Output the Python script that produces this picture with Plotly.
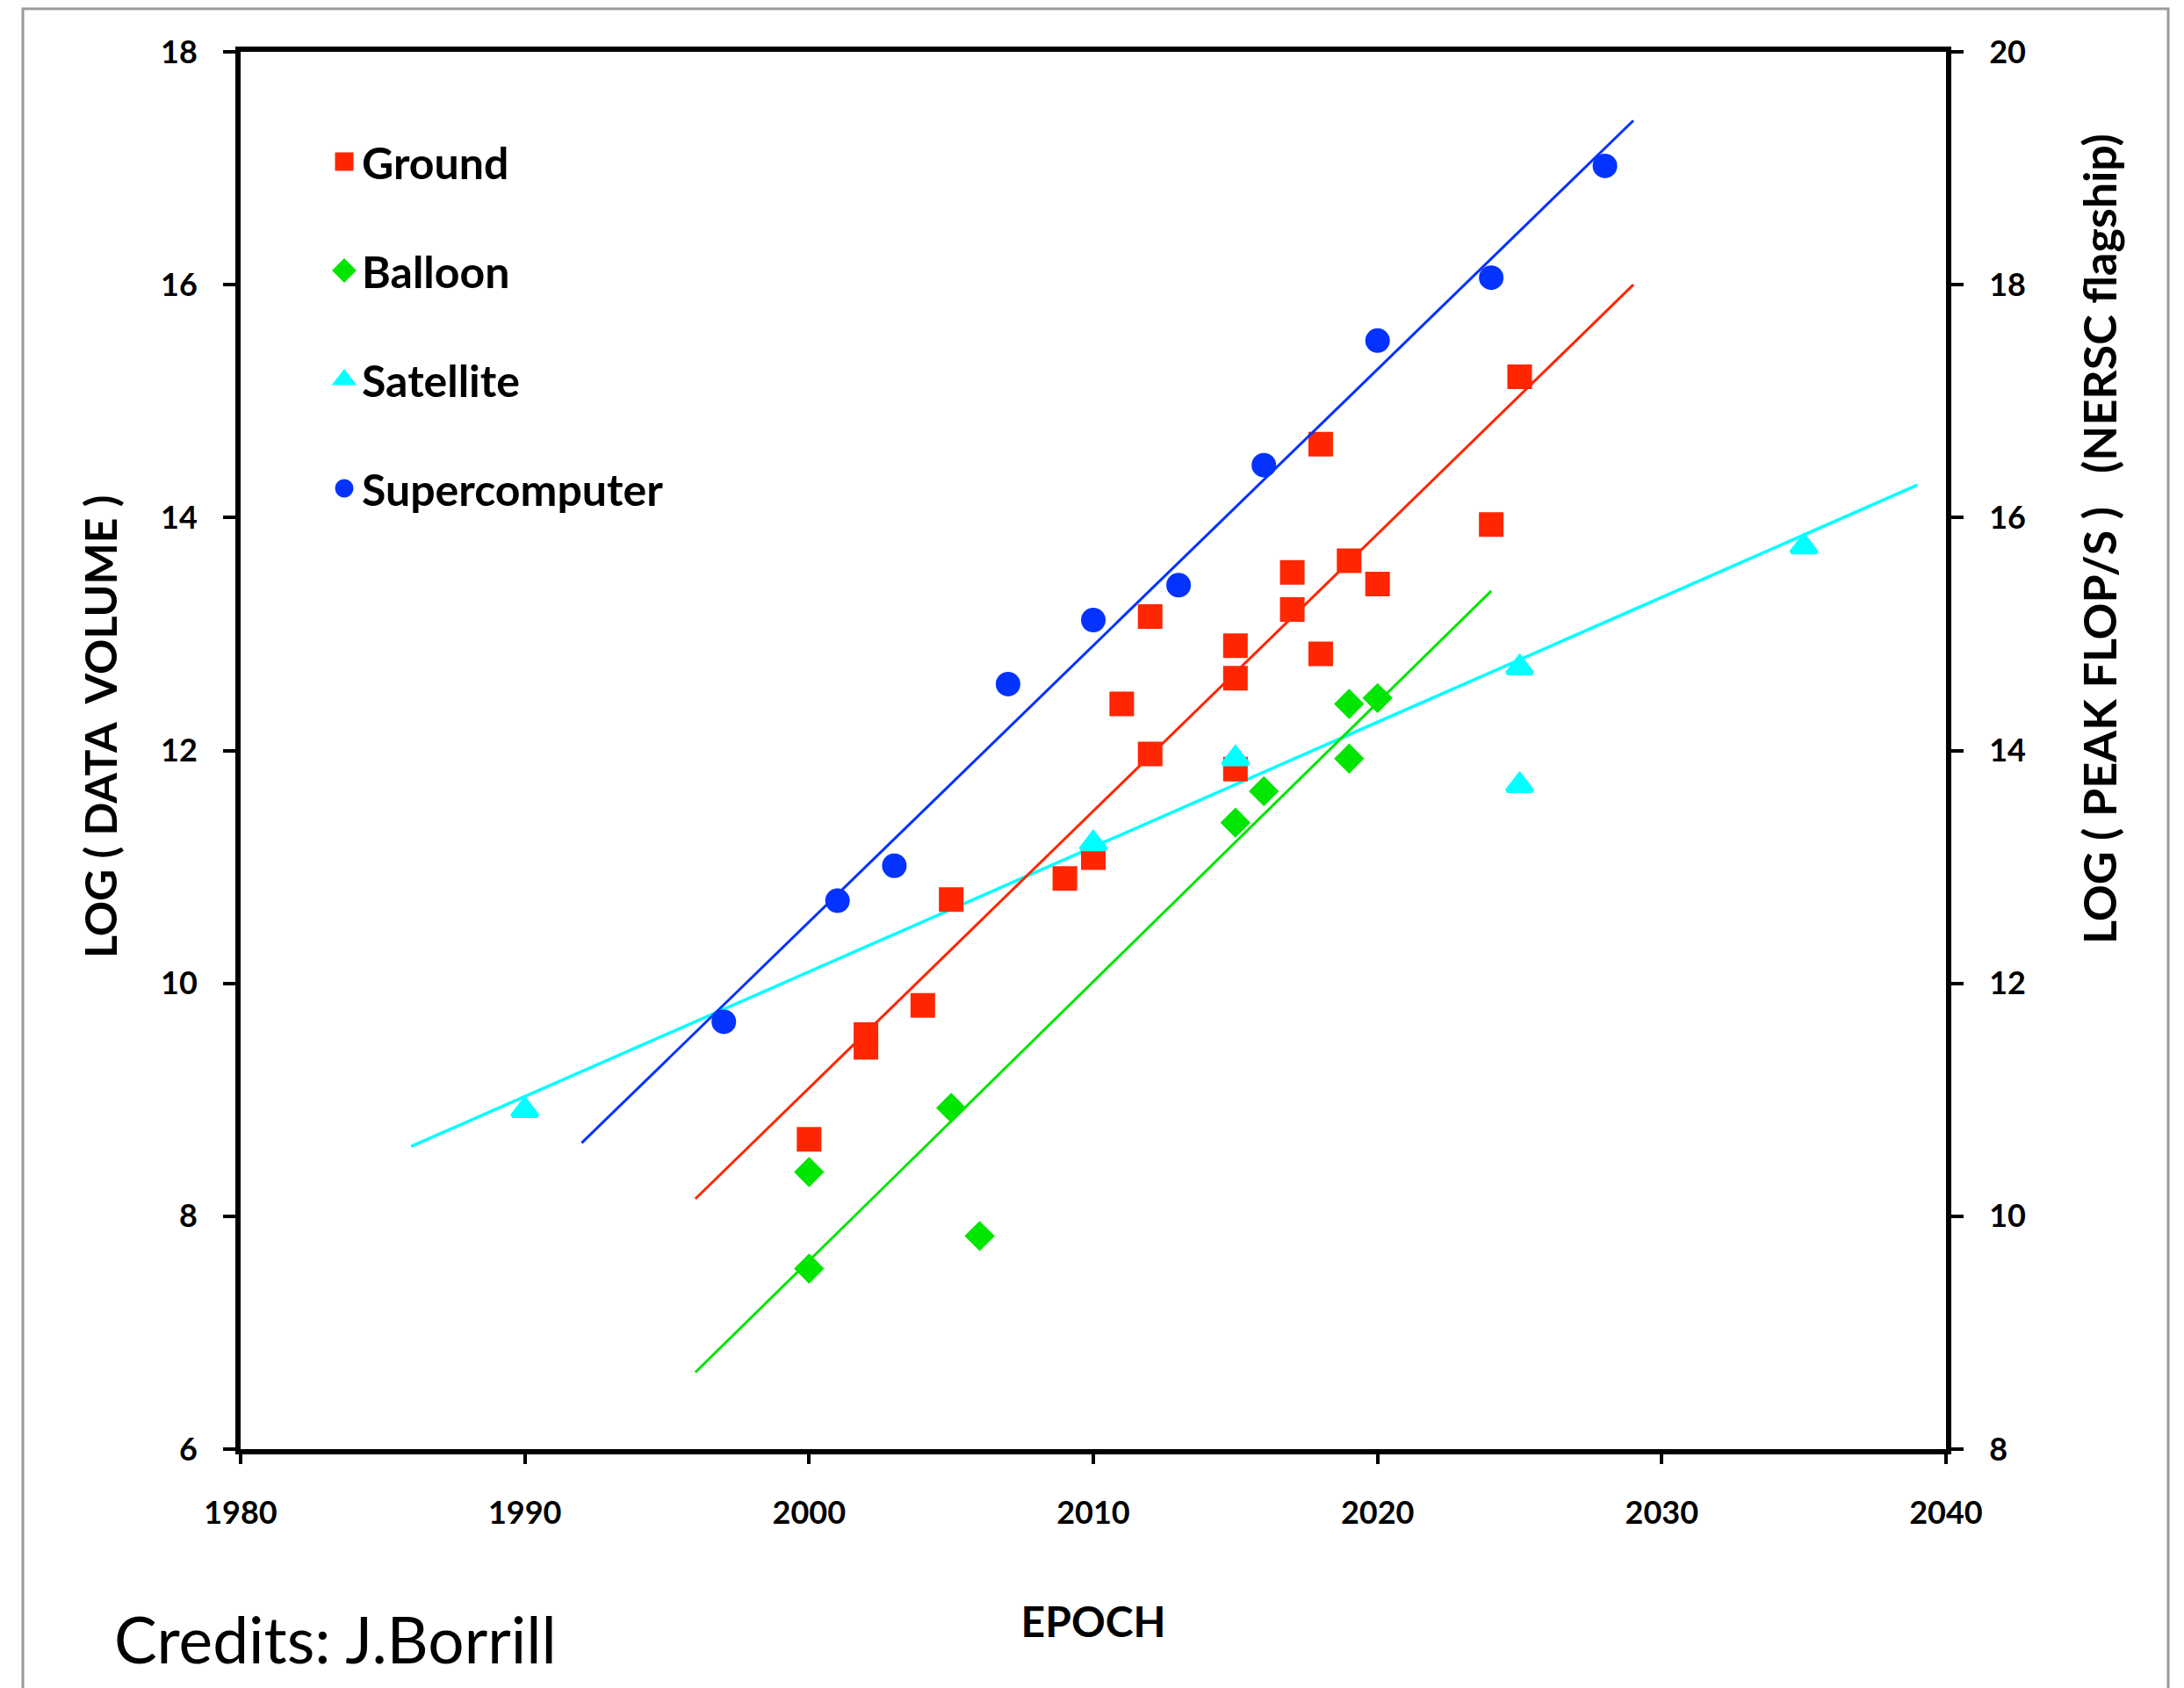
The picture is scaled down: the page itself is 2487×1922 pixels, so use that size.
import plotly.graph_objects as go

# ---------------- data ----------------
ground_years = [2000, 2002, 2002, 2004, 2005, 2009, 2010, 2011, 2012, 2012,
                2015, 2015, 2015, 2017, 2017, 2018, 2018, 2019, 2020, 2024, 2025]
ground_vals = [8.66, 9.56, 9.45, 9.81, 10.72, 10.90, 11.08, 12.40, 11.97, 13.15,
               12.90, 12.62, 11.84, 13.53, 13.21, 14.63, 12.83, 13.63, 13.43, 13.94, 15.21]

balloon_years = [2000, 2000, 2005, 2006, 2015, 2016, 2019, 2019, 2020]
balloon_vals = [8.38, 7.55, 8.93, 7.83, 11.38, 11.65, 12.40, 11.93, 12.45]

satellite_years = [1990, 2010, 2015, 2025, 2025, 2035]
satellite_vals = [8.91, 11.20, 11.93, 12.71, 11.70, 13.75]

super_years = [1997, 2001, 2003, 2007, 2010, 2013, 2016, 2020, 2024, 2028]
super_flops = [11.67, 12.71, 13.01, 14.57, 15.12, 15.42, 16.45, 17.52, 18.06, 19.02]

# trend-line end points
ground_fit_years = [1996, 2029]
ground_fit_vals = [8.15, 16.00]
balloon_fit_years = [1996, 2024]
balloon_fit_vals = [6.66, 13.37]
satellite_fit_years = [1986, 2039]
satellite_fit_vals = [8.60, 14.28]
super_fit_years = [1992, 2029]
super_fit_flops = [10.63, 19.41]

x_ticks = [1980, 1990, 2000, 2010, 2020, 2030, 2040]
y_ticks = [6, 8, 10, 12, 14, 16, 18]
y2_ticks = [8, 10, 12, 14, 16, 18, 20]

# ---------------- style ----------------
RED = "#FF2600"
GREEN = "#00E600"
CYAN = "#00FFFF"
BLUE = "#0433FF"
FONT = "Lato"

W, H = 2487, 1922
ML, MR, MT, MB = 274, 271, 59, 272
PW, PH = W - ML - MR, H - MT - MB


def px_x(px):
    return (px - ML) / PW


def px_y(py):
    return (H - MB - py) / PH


fig = go.Figure()

# trend lines
fig.add_trace(go.Scatter(x=satellite_fit_years, y=satellite_fit_vals, mode="lines",
                         line=dict(color=CYAN, width=3.5), showlegend=False, hoverinfo="skip"))
fig.add_trace(go.Scatter(x=balloon_fit_years, y=balloon_fit_vals, mode="lines",
                         line=dict(color=GREEN, width=3), showlegend=False, hoverinfo="skip"))
fig.add_trace(go.Scatter(x=ground_fit_years, y=ground_fit_vals, mode="lines",
                         line=dict(color=RED, width=3), showlegend=False, hoverinfo="skip"))
fig.add_trace(go.Scatter(x=super_fit_years, y=super_fit_flops, mode="lines", yaxis="y2",
                         line=dict(color=BLUE, width=3), showlegend=False, hoverinfo="skip"))

# points
fig.add_trace(go.Scatter(x=ground_years, y=ground_vals, mode="markers", name="Ground",
                         legendgroup="g1",
                         marker=dict(symbol="square", size=23, color=RED,
                                     line=dict(color=RED, width=5))))
fig.add_trace(go.Scatter(x=balloon_years, y=balloon_vals, mode="markers", name="Balloon",
                         legendgroup="g2",
                         marker=dict(symbol="diamond", size=21, color=GREEN,
                                     line=dict(color=GREEN, width=5))))
fig.add_trace(go.Scatter(x=satellite_years, y=satellite_vals, mode="markers", name="Satellite",
                         legendgroup="g3",
                         marker=dict(symbol="triangle-up", size=25, color=CYAN,
                                     line=dict(color=CYAN, width=5))))
fig.add_trace(go.Scatter(x=super_years, y=super_flops, mode="markers", name="Supercomputer",
                         legendgroup="g4", yaxis="y2",
                         marker=dict(symbol="circle", size=23, color=BLUE,
                                     line=dict(color=BLUE, width=5))))

tickfont = dict(family=FONT, size=36, color="black", weight="bold")

fig.update_layout(
    width=W, height=H,
    margin=dict(l=ML, r=MR, t=MT, b=MB, autoexpand=False),
    paper_bgcolor="white", plot_bgcolor="white",
    xaxis=dict(range=[1980, 2040], tickvals=x_ticks, ticktext=[str(v) for v in x_ticks],
               showgrid=False, zeroline=False,
               showline=True, linewidth=6, linecolor="black", mirror=True,
               ticks="outside", ticklen=11, tickwidth=4, tickcolor="black",
               tickfont=tickfont, ticklabelstandoff=25,
               title=dict(text="EPOCH", font=dict(family=FONT, size=48, color="black", weight="bold"),
                          standoff=90)),
    yaxis=dict(range=[6, 18], tickvals=y_ticks, ticktext=[str(v) for v in y_ticks],
               showgrid=False, zeroline=False,
               showline=True, linewidth=6, linecolor="black", mirror=True,
               ticks="outside", ticklen=14, tickwidth=4, tickcolor="black",
               tickfont=tickfont, ticklabelstandoff=22),
    yaxis2=dict(range=[8, 20], tickvals=y2_ticks, ticktext=[str(v) for v in y2_ticks],
                overlaying="y", side="right",
                showgrid=False, zeroline=False,
                showline=True, linewidth=6, linecolor="black",
                ticks="outside", ticklen=14, tickwidth=4, tickcolor="black",
                tickfont=tickfont, ticklabelstandoff=22),
    legend=dict(x=px_x(372), y=px_y(145), xanchor="left", yanchor="top",
                bgcolor="rgba(0,0,0,0)", borderwidth=0,
                font=dict(family=FONT, size=50, color="black", weight="bold"),
                tracegroupgap=56, itemsizing="trace"),
    showlegend=True,
)

# slide frame
fig.add_shape(type="rect", xref="paper", yref="paper",
              x0=px_x(26), x1=px_x(2469), y0=px_y(1940), y1=px_y(10),
              line=dict(color="#9a9a9a", width=3), fillcolor="rgba(0,0,0,0)", layer="below")

# axis titles
fig.add_annotation(text="LOG ( DATA  VOLUME )", xref="paper", yref="paper",
                   x=px_x(114), y=px_y(828), xanchor="center", yanchor="middle",
                   textangle=-90, showarrow=False,
                   font=dict(family=FONT, size=50, color="black", weight="bold"))
fig.add_annotation(text="LOG ( PEAK FLOP/S )   (NERSC flagship)", xref="paper", yref="paper",
                   x=px_x(2390), y=px_y(614), xanchor="center", yanchor="middle",
                   textangle=-90, showarrow=False,
                   font=dict(family=FONT, size=52, color="black", weight="bold"))
fig.add_annotation(text="Credits: J.Borrill", xref="paper", yref="paper",
                   x=px_x(128), y=px_y(1866), xanchor="left", yanchor="middle",
                   showarrow=False,
                   font=dict(family=FONT, size=73, color="black"))

fig.write_html("out.html")
